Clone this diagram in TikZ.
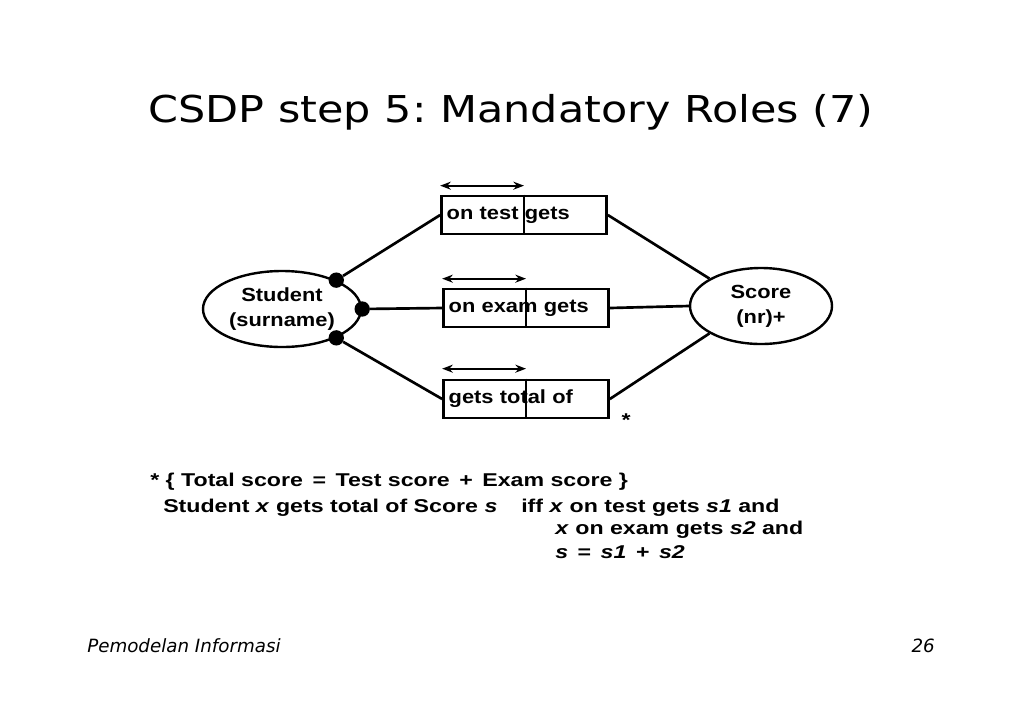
\documentclass[tikz,border=0pt]{standalone}
\usepackage{fontspec}
\newfontfamily\titlefont[FakeStretch=1.16]{DejaVu Sans}
\newfontfamily\diagfont[FakeStretch=1.15]{Liberation Sans}
\newfontfamily\notefont[FakeStretch=1.25]{Liberation Sans}
\newfontfamily\footfont{DejaVu Sans}
\usetikzlibrary{shapes.geometric,arrows.meta,calc}
\frenchspacing

\begin{document}
\begin{tikzpicture}[x=0.75pt, y=-0.75pt,
  box/.style={draw, line width=2pt, minimum width=123.75pt, minimum height=28.5pt, inner sep=0pt, text width=116pt, align=left, font=\diagfont\bfseries\fontsize{14.25}{18.75}\selectfont},
  ent/.style={ellipse, draw, line width=1.8pt, inner sep=0pt, align=center, font=\diagfont\bfseries\fontsize{14.25}{18.75}\selectfont},
  dot/.style={circle, fill=black, inner sep=0pt, minimum size=11.5pt},
  link/.style={line width=2pt},
  span/.style={{Stealth[length=8pt,width=6pt]}-{Stealth[length=8pt,width=6pt]}, line width=1.3pt},
  note/.style={anchor=base west, inner sep=0pt, font=\notefont\bfseries\fontsize{13.9}{18}\selectfont},
  foot/.style={inner sep=0pt, font=\footfont\itshape\fontsize{13.7}{16}\selectfont}]
  \useasboundingbox[fill=white] (0,0) rectangle (1023,708);
  \node[anchor=base, inner sep=0pt, font=\titlefont\fontsize{27.75}{32}\selectfont] (title) at (511,122) {CSDP step 5: Mandatory Roles (7)};
  \node[ent, minimum width=118.5pt, minimum height=57pt] (stu) at (282,309) {Student\\(surname)};
  \node[ent, minimum width=106.5pt, minimum height=57pt] (sco) at (761,306) {Score\\(nr)+};
  \node[box] (b1) at (524,215) {on test gets};
  \node[box] (b2) at (526,308) {on exam gets};
  \node[box] (b3) at (526,399) {gets total of};
  \draw[line width=1.2pt] (b1.north) -- (b1.south);
  \draw[line width=1.2pt] (b2.north) -- (b2.south);
  \draw[line width=1.2pt] (b3.north) -- (b3.south);
  \coordinate (s1l) at ($(b1.north west)+(0,-9)$);
  \coordinate (s1r) at ($(b1.north)+(0,-9)$);
  \coordinate (s2l) at ($(b2.north west)+(0,-9)$);
  \coordinate (s2r) at ($(b2.north)+(0,-9)$);
  \coordinate (s3l) at ($(b3.north west)+(0,-10)$);
  \coordinate (s3r) at ($(b3.north)+(0,-10)$);
  \draw[span] (s1l) -- (s1r);
  \draw[span] (s2l) -- (s2r);
  \draw[span] (s3l) -- (s3r);
  \node[dot] (d1) at (stu.28) {};
  \node[dot] (d2) at (stu.0) {};
  \node[dot] (d3) at (stu.-28) {};
  \draw[link] (d1) -- (b1.west);
  \draw[link] (d2) -- (b2.west);
  \draw[link] (d3) -- (b3.west);
  \draw[link] (b1.east) -- (sco.152);
  \draw[link] (b2.east) -- (sco.west);
  \draw[link] (b3.east) -- (sco.208);
  \node[note, anchor=base] (star) at (626,426) {*};
  \node[note] (n1) at (150,486) {* \{ Total score \,=\, Test score \,+\, Exam score \}};
  \node[note] (n2) at (163,512) {Student \textit{x} gets total of Score \textit{s}};
  \node[note] (n3) at (521,512) {iff \textit{x} on test gets \textit{s1} and};
  \node[note] (n4) at (555,534) {\textit{x} on exam gets \textit{s2} and};
  \node[note] (n5) at (555,558) {\textit{s} \,=\, \textit{s1} \,+\, \textit{s2}};
  \node[foot, anchor=base west] (f1) at (87,652) {Pemodelan Informasi};
  \node[foot, anchor=base east] (f2) at (935,652) {26};
\end{tikzpicture}
\end{document}
